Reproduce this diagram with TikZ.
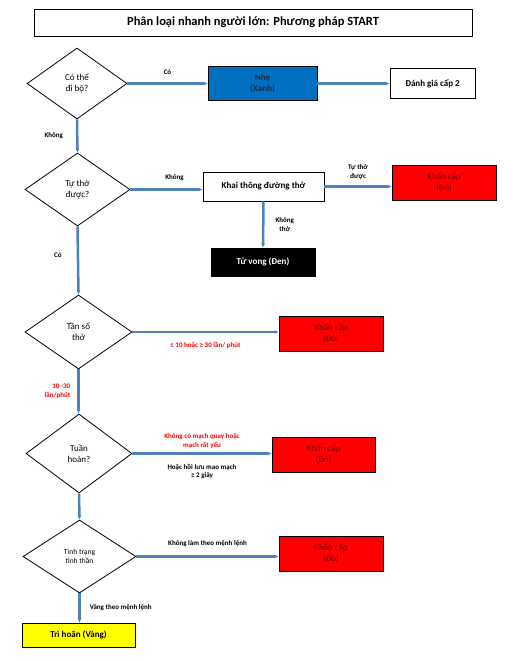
\documentclass[tikz,border=0pt]{standalone}
\usepackage{fontspec}
\setmainfont{Carlito}
\usepackage{xcolor}
\usetikzlibrary{arrows.meta,calc,positioning,shapes.geometric}
\definecolor{startLine}{HTML}{4F81BD}
\definecolor{startBlue}{HTML}{0070C0}
\definecolor{startRed}{HTML}{FF0000}
\definecolor{startYellow}{HTML}{FFFF00}
\definecolor{startText}{HTML}{7A0000}
\definecolor{startNavy}{HTML}{1F2A44}

\begin{document}
\begin{tikzpicture}[x=1pt,y=-1pt,
    every node/.style={font=\fontsize{9}{11}\selectfont, align=center, inner sep=1pt},
    askbox/.style={draw, thick, diamond, inner sep=0pt},
    tagbox/.style={draw, thick, font=\fontsize{9}{11}\selectfont\bfseries},
    redbox/.style={draw, thick, fill=startRed, text=startText, minimum width=104pt, minimum height=35pt},
    flow/.style={-{Latex[length=4pt,width=4pt]}, line width=2.5pt, startLine},
    lbl/.style={font=\fontsize{7}{8.5}\selectfont\bfseries},
    redlbl/.style={lbl, text=startRed}]
  \useasboundingbox (0,0) rectangle (516,661);

  \node[draw, thick, minimum width=438pt, minimum height=27pt, font=\fontsize{12.5}{14}\selectfont\bfseries] (title) at (253,22.5) {Phân loại nhanh người lớn: Phương pháp START};

  % cac cau hoi
  \node[askbox, minimum width=100pt, minimum height=71pt] (walk) at (77,83.5) {Có thể\\đi bộ?};
  \node[askbox, minimum width=105pt, minimum height=73pt] (breath) at (77.5,189.5) {Tự thở\\được?};
  \node[askbox, minimum width=107pt, minimum height=74pt] (rate) at (78.5,332) {Tần số\\thở};
  \node[askbox, minimum width=106pt, minimum height=79pt] (pulse) at (79,453.5) {Tuần\\hoàn?};
  \node[askbox, minimum width=113pt, minimum height=73pt, font=\fontsize{7.5}{9}\selectfont] (mental) at (79.5,556.5) {Tình trạng\\tinh thần};

  % cac ket qua
  \node[tagbox, fill=startBlue, text=startNavy, minimum width=109pt, minimum height=34pt] (mild) at (262.5,83.5) {Nhẹ\\(Xanh)};
  \node[tagbox, minimum width=85pt, minimum height=30pt] (triage) at (432.5,83.5) {Đánh giá cấp 2};
  \node[tagbox, minimum width=121pt, minimum height=29pt] (airway) at (263.5,186.5) {Khai thông đường thở};
  \node[redbox] (urgentA) at (444,182.5) {Khẩn cấp\\(Đỏ)};
  \node[tagbox, fill=black, text=white, minimum width=104pt, minimum height=28pt] (dead) at (263,262) {Tử vong (Đen)};
  \node[redbox] (urgentB) at (331,333.5) {Khẩn cấp\\(Đỏ)};
  \node[redbox, minimum width=103pt] (urgentC) at (323.5,454.5) {Khẩn cấp\\(Đỏ)};
  \node[redbox] (urgentD) at (331,553.5) {Khẩn cấp\\(Đỏ)};
  \node[tagbox, fill=startYellow, minimum width=113pt, minimum height=24pt] (delayed) at (78.5,635) {Trì hoãn (Vàng)};

  % mui ten
  \draw[flow] (walk.east) -- (walk.east -| mild.west) node[midway, above=7pt, lbl, text=black] {Có};
  \draw[flow] (mild.east) -- (triage.west);
  \draw[flow] (walk.south) -- (breath.north) node[midway, left=12pt, lbl, text=black] {Không};
  \draw[flow] (breath.east) -- (breath.east -| airway.west) node[midway, above=7pt, lbl, text=black, xshift=8pt] {Không};
  \draw[flow] (airway.east) -- (airway.east -| urgentA.west) node[midway, above=5pt, lbl, text=black] {Tự thở\\được};
  \draw[flow] (airway.south) -- (dead.north) node[midway, right=10pt, lbl, text=black] {Không\\thở};
  \draw[flow] (breath.south) -- (rate.north) node[pos=0.42, left=14pt, lbl, text=black] {Có};
  \draw[flow] (rate.east) -- (rate.east -| urgentB.west) node[midway, below=8pt, redlbl] {≤ 10 hoặc ≥ 30 lần/ phút};
  \draw[flow] (rate.south) -- (rate.south |- pulse.north) node[midway, left=6pt, redlbl, align=right] {10 -30\\lần/phút};
  \draw[flow] (pulse.east) -- (pulse.east -| urgentC.west)
    node[midway, above=3pt, redlbl] {Không có mạch quay hoặc\\mạch rất yếu}
    node[midway, below=8pt, lbl, text=black] {Hoặc hồi lưu mao mạch\\≥ 2 giây};
  \draw[flow] (pulse.south) -- (mental.north);
  \draw[flow] (mental.east) -- (mental.east -| urgentD.west) node[midway, above=8pt, lbl, text=black] {Không làm theo mệnh lệnh};
  \draw[flow] (mental.south) -- (mental.south |- delayed.north) node[midway, right=8pt, lbl, text=black] {Vâng theo mệnh lệnh};
\end{tikzpicture}
\end{document}
